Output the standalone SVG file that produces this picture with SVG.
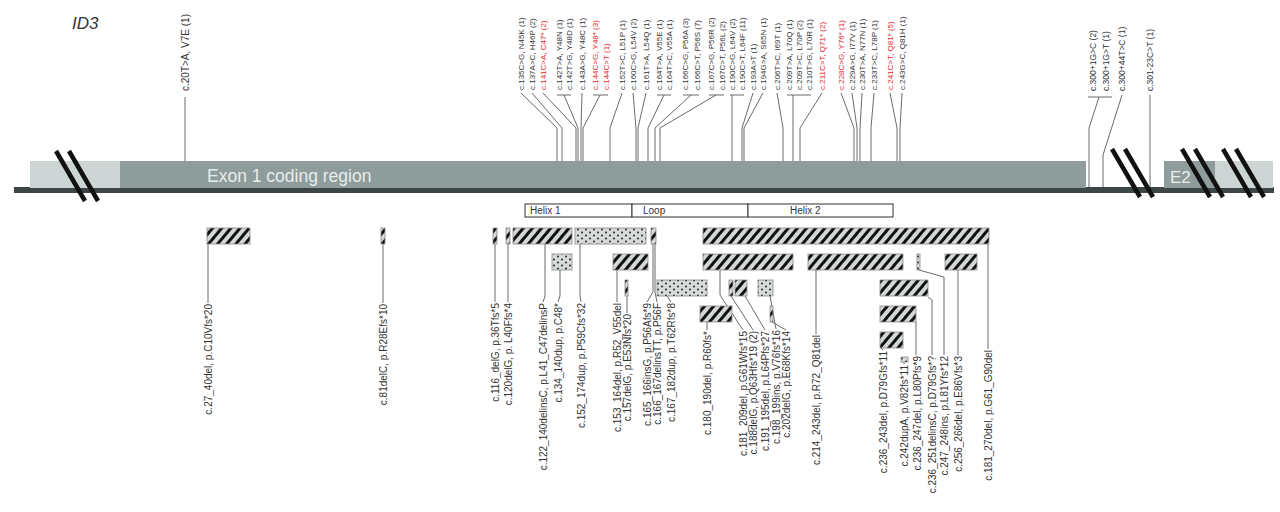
<svg xmlns="http://www.w3.org/2000/svg" width="1280" height="512" viewBox="0 0 1280 512">
<style>
.lbl{font-family:"Liberation Sans",Arial,sans-serif;fill:#333}
.top{font-size:8px}
.rt{font-size:8.5px}
.bot{font-size:10px}
.red{fill:#e3262b}
.ld{fill:none;stroke:#6b6b6b;stroke-width:1}
.hb{fill:url(#hatch);stroke:#8a8a8a;stroke-width:0.8}
.db{fill:url(#dots);stroke:#8a8a8a;stroke-width:0.8}
.slash{stroke:#111;stroke-width:4.5}
.dom{fill:#fff;stroke:#333;stroke-width:1}
.dt{font-family:"Liberation Sans",Arial,sans-serif;font-size:10px;fill:#333}
</style>
<defs>
<pattern id="hatch" width="7" height="7" patternUnits="userSpaceOnUse" patternTransform="rotate(40)">
<rect width="7" height="7" fill="#d3d7d7"/>
<rect width="3" height="7" fill="#111"/>
</pattern>
<pattern id="dots" width="8" height="6" patternUnits="userSpaceOnUse">
<rect width="8" height="6" fill="#d6dada"/>
<circle cx="2" cy="1.5" r="1" fill="#222"/>
<circle cx="6" cy="4.5" r="1" fill="#222"/>
</pattern>
</defs>
<rect width="1280" height="512" fill="#fff"/>
<text x="72" y="29" font-family="Liberation Sans, Arial, sans-serif" font-size="17" font-style="italic" fill="#333">ID3</text>

<g id="gene">
<rect x="14" y="187" width="1260" height="6" fill="#3c4646"/>
<rect x="30" y="161" width="90" height="27" fill="#cdd5d4"/>
<rect x="120" y="161" width="966" height="27" fill="#8e9c9b"/>
<rect x="1164" y="161" width="51" height="27" fill="#8e9c9b"/>
<rect x="1215" y="161" width="58" height="27" fill="#cdd5d4"/>
<text x="207" y="182" font-family="Liberation Sans, Arial, sans-serif" font-size="17.5" fill="#e8eded">Exon 1 coding region</text>
<text x="1170" y="183" font-family="Liberation Sans, Arial, sans-serif" font-size="17" fill="#e8eded">E2</text>
<line class="slash" x1="56" y1="151" x2="85" y2="201"/>
<line class="slash" x1="69" y1="151" x2="98" y2="201"/>
<line class="slash" x1="1112" y1="149" x2="1140" y2="197"/>
<line class="slash" x1="1125" y1="149" x2="1153" y2="197"/>
<line class="slash" x1="1182" y1="149" x2="1210" y2="197"/>
<line class="slash" x1="1195" y1="149" x2="1223" y2="197"/>
<line class="slash" x1="1223" y1="149" x2="1251" y2="197"/>
<line class="slash" x1="1236" y1="149" x2="1264" y2="197"/>
</g>

<g id="domains">
<rect class="dom" x="525" y="204" width="107" height="13"/>
<rect class="dom" x="632" y="204" width="116" height="13"/>
<rect class="dom" x="748" y="204" width="145" height="13"/>
<text class="dt" x="530" y="214">Helix 1</text>
<text class="dt" x="643" y="214">Loop</text>
<text class="dt" x="790" y="214">Helix 2</text>
</g>

<g id="connectors">
<path class="ld" d="M185,97V161"/>
<path class="ld" d="M521,93L557,128V161"/>
<path class="ld" d="M532,93L562,128V161"/>
<path class="ld" d="M543,93L576,128V161"/>
<path class="ld" d="M557,95H571M564,95L578,128V161"/>
<path class="ld" d="M582,93L581,128V161"/>
<path class="ld" d="M593,95H608M600,95L583,128V161"/>
<path class="ld" d="M622,93L610,128V161"/>
<path class="ld" d="M633,93L636,128V161"/>
<path class="ld" d="M646,93L638,128V161"/>
<path class="ld" d="M657,95H671M664,95L648,128V161"/>
<path class="ld" d="M683,95H699M691,95L655,128V161"/>
<path class="ld" d="M709,95H724M716,95L660,128V161"/>
<path class="ld" d="M730,95H744M732,95V161"/>
<path class="ld" d="M753,93L742,128V161"/>
<path class="ld" d="M763,93L744,128V161"/>
<path class="ld" d="M777,93L783,128V161"/>
<path class="ld" d="M787,95H811M793,95V161"/>
<path class="ld" d="M822,93L800,128V161"/>
<path class="ld" d="M841,93L854,128V161"/>
<path class="ld" d="M852,93L857,128V161"/>
<path class="ld" d="M862,93L860,128V161"/>
<path class="ld" d="M874,93L871,128V161"/>
<path class="ld" d="M890,93L897,128V161"/>
<path class="ld" d="M902,93L900,128V161"/>
<path class="ld" d="M1088,97H1112M1099,97L1089,128V187"/>
<path class="ld" d="M1122,95L1103,155V187"/>
<path class="ld" d="M1150,95V187"/>

<path class="ld" d="M208,244V303"/>
<path class="ld" d="M383,244V303"/>
<path class="ld" d="M495,244V302"/>
<path class="ld" d="M508,244V302"/>
<path class="ld" d="M545,244V296L543,302"/>
<path class="ld" d="M560,270V296L558,302"/>
<path class="ld" d="M580,244V296L581,302"/>
<path class="ld" d="M617,270V302"/>
<path class="ld" d="M627,296V313"/>
<path class="ld" d="M653,244V292L647,302"/>
<path class="ld" d="M655,244V292L657,302"/>
<path class="ld" d="M667,296L671,302"/>
<path class="ld" d="M707,322V330"/>
<path class="ld" d="M720,270V295L743,330"/>
<path class="ld" d="M731,296L753,330"/>
<path class="ld" d="M745,296L765,330"/>
<path class="ld" d="M770,296L776,329"/>
<path class="ld" d="M772,322L786,330"/>
<path class="ld" d="M816,270V334"/>
<path class="ld" d="M881,348L883,350"/>
<path class="ld" d="M904,362V364"/>
<path class="ld" d="M916,322V355"/>
<path class="ld" d="M928,297L932,300V355"/>
<path class="ld" d="M919,270L944,277V355"/>
<path class="ld" d="M958,270V355"/>
<path class="ld" d="M988,244V349"/>
</g>

<g id="top-mutations">
<text class="lbl" transform="translate(188.5,91) rotate(-90)" style="font-size:10px">c.20T&gt;A, V7E (1)</text>
<text class="lbl top" transform="translate(524,90) rotate(-90)">c.135C&gt;G, N45K (1)</text>
<text class="lbl top" transform="translate(535,90) rotate(-90)">c.137A&gt;C, H46P (2)</text>
<text class="lbl top red" transform="translate(546,90) rotate(-90)">c.141C&gt;A, C47* (2)</text>
<text class="lbl top" transform="translate(562,90) rotate(-90)">c.142T&gt;A, Y48N (1)</text>
<text class="lbl top" transform="translate(572,90) rotate(-90)">c.142T&gt;G, Y48D (1)</text>
<text class="lbl top" transform="translate(585,90) rotate(-90)">c.143A&gt;G, Y48C (1)</text>
<text class="lbl top red" transform="translate(598,90) rotate(-90)">c.144C&gt;G, Y48* (3)</text>
<text class="lbl top red" transform="translate(609,90) rotate(-90)">c.144C&gt;T (1)</text>
<text class="lbl top" transform="translate(625,90) rotate(-90)">c.152T&gt;C, L51P (1)</text>
<text class="lbl top" transform="translate(636,90) rotate(-90)">c.160C&gt;G, L54V (2)</text>
<text class="lbl top" transform="translate(649,90) rotate(-90)">c.161T&gt;A, L54Q (1)</text>
<text class="lbl top" transform="translate(662,90) rotate(-90)">c.164T&gt;A, V55E (1)</text>
<text class="lbl top" transform="translate(672,90) rotate(-90)">c.164T&gt;C, V55A (1)</text>
<text class="lbl top" transform="translate(688,90) rotate(-90)">c.166C&gt;G, P56A (3)</text>
<text class="lbl top" transform="translate(700,90) rotate(-90)">c.166C&gt;T, P56S (7)</text>
<text class="lbl top" transform="translate(714,90) rotate(-90)">c.167C&gt;G, P56R (2)</text>
<text class="lbl top" transform="translate(725,90) rotate(-90)">c.167C&gt;T, P56L (2)</text>
<text class="lbl top" transform="translate(735,90) rotate(-90)">c.190C&gt;G, L64V (2)</text>
<text class="lbl top" transform="translate(745,90) rotate(-90)">c.190C&gt;T, L64F (11)</text>
<text class="lbl top" transform="translate(756,90) rotate(-90)">c.193A&gt;T (1)</text>
<text class="lbl top" transform="translate(766,90) rotate(-90)">c.194G&gt;A, S65N (1)</text>
<text class="lbl top" transform="translate(780,90) rotate(-90)">c.206T&gt;C, I69T (1)</text>
<text class="lbl top" transform="translate(792,90) rotate(-90)">c.209T&gt;A, L70Q (1)</text>
<text class="lbl top" transform="translate(802,90) rotate(-90)">c.209T&gt;C, L70P (2)</text>
<text class="lbl top" transform="translate(812,90) rotate(-90)">c.210T&gt;G, L70R (1)</text>
<text class="lbl top red" transform="translate(825,90) rotate(-90)">c.211C&gt;T, Q71* (2)</text>
<text class="lbl top red" transform="translate(844,90) rotate(-90)">c.228C&gt;G, Y76* (1)</text>
<text class="lbl top" transform="translate(855,90) rotate(-90)">c.229A&gt;G, I77V (1)</text>
<text class="lbl top" transform="translate(865,90) rotate(-90)">c.230T&gt;A, N77N (1)</text>
<text class="lbl top" transform="translate(877,90) rotate(-90)">c.233T&gt;C, L78P (1)</text>
<text class="lbl top red" transform="translate(893,90) rotate(-90)">c.241C&gt;T, Q81* (5)</text>
<text class="lbl top" transform="translate(905,90) rotate(-90)">c.243G&gt;C, Q81H (1)</text>
<text class="lbl rt" transform="translate(1096,91) rotate(-90)">c.300+1G&gt;C (2)</text>
<text class="lbl rt" transform="translate(1109,91) rotate(-90)">c.300+1G&gt;T (1)</text>
<text class="lbl rt" transform="translate(1125,91) rotate(-90)">c.300+44T&gt;C (1)</text>
<text class="lbl rt" transform="translate(1153,91) rotate(-90)">c.301-23C&gt;T (1)</text>
</g>

<g id="bars">
<rect class="hb" x="207" y="228" width="43" height="16"/>
<rect class="hb" x="381" y="228" width="4" height="16"/>
<rect class="hb" x="493" y="228" width="4" height="16"/>
<rect class="hb" x="506" y="228" width="4" height="16"/>
<rect class="hb" x="513" y="228" width="59" height="16"/>
<rect class="db" x="575" y="228" width="71" height="16"/>
<rect class="hb" x="651" y="228" width="5" height="16"/>
<rect class="hb" x="703" y="228" width="286" height="16"/>
<rect class="db" x="552" y="254" width="20" height="16"/>
<rect class="hb" x="613" y="254" width="35" height="16"/>
<rect class="hb" x="703" y="254" width="90" height="16"/>
<rect class="hb" x="808" y="254" width="95" height="16"/>
<rect class="db" x="917" y="254" width="3" height="16"/>
<rect class="hb" x="945" y="254" width="32" height="16"/>
<rect class="hb" x="625" y="280" width="3" height="16"/>
<rect class="db" x="657" y="280" width="50" height="16"/>
<rect class="hb" x="729" y="280" width="4" height="16"/>
<rect class="hb" x="735" y="280" width="12" height="16"/>
<rect class="db" x="758" y="280" width="15" height="16"/>
<rect class="hb" x="880" y="280" width="48" height="16"/>
<rect class="hb" x="700" y="306" width="32" height="16"/>
<rect class="hb" x="770" y="306" width="3" height="16"/>
<rect class="hb" x="880" y="306" width="36" height="16"/>
<rect class="hb" x="880" y="332" width="23" height="16"/>
<rect class="db" x="901" y="357" width="7" height="5"/>
</g>

<g id="bottom-mutations">
<text class="lbl bot" text-anchor="end" transform="translate(211.5,304) rotate(-90)">c.27_40del, p.C10Vfs*20</text>
<text class="lbl bot" text-anchor="end" transform="translate(386.5,304) rotate(-90)">c.81delC, p.R28Efs*10</text>
<text class="lbl bot" text-anchor="end" transform="translate(498.5,303) rotate(-90)">c.116_delG, p.36Tfs*5</text>
<text class="lbl bot" text-anchor="end" transform="translate(511.5,303) rotate(-90)">c.120delG, p. L40Ffs*4</text>
<text class="lbl bot" text-anchor="end" transform="translate(546.5,303) rotate(-90)">c.122_140delinsC, p.L41_C47delinsP</text>
<text class="lbl bot" text-anchor="end" transform="translate(561.5,303) rotate(-90)">c.134_140dup, p.C48*</text>
<text class="lbl bot" text-anchor="end" transform="translate(584.5,303) rotate(-90)">c.152_174dup, p.P59Cfs*32</text>
<text class="lbl bot" text-anchor="end" transform="translate(620.5,303) rotate(-90)">c.153_164del, p.R52_V55del</text>
<text class="lbl bot" text-anchor="end" transform="translate(630.5,314) rotate(-90)">c.157delG, p.E53Nfs*20</text>
<text class="lbl bot" text-anchor="end" transform="translate(650.5,303) rotate(-90)">c.165_166insG, p.P56Afs*9</text>
<text class="lbl bot" text-anchor="end" transform="translate(660.5,303) rotate(-90)">c.166_167delinsTT, p.P56F</text>
<text class="lbl bot" text-anchor="end" transform="translate(674.5,303) rotate(-90)">c.167_182dup, p.T62Rfs*8</text>
<text class="lbl bot" text-anchor="end" transform="translate(710.5,331) rotate(-90)">c.180_190del, p.R60fs*</text>
<text class="lbl bot" text-anchor="end" transform="translate(746.5,331) rotate(-90)">c.181_209del, p.G61Wfs*15</text>
<text class="lbl bot" text-anchor="end" transform="translate(756.5,331) rotate(-90)">c.188delG, p.Q63Hfs*19 (2)</text>
<text class="lbl bot" text-anchor="end" transform="translate(768.5,331) rotate(-90)">c.191_195del, p.L64Pfs*27</text>
<text class="lbl bot" text-anchor="end" transform="translate(779.5,330) rotate(-90)">c.198_199ins, p.V76fs*16</text>
<text class="lbl bot" text-anchor="end" transform="translate(789.5,331) rotate(-90)">c.202delG, p.E68Kfs*14</text>
<text class="lbl bot" text-anchor="end" transform="translate(819.5,335) rotate(-90)">c.214_243del, p.R72_Q81del</text>
<text class="lbl bot" text-anchor="end" transform="translate(886.5,351) rotate(-90)">c.236_243del, p.D79Gfs*11</text>
<text class="lbl bot" text-anchor="end" transform="translate(907.5,365) rotate(-90)">c.242dupA, p.V82fs*11</text>
<text class="lbl bot" text-anchor="end" transform="translate(920.5,356) rotate(-90)">c.236_247del, p.L80Pfs*9</text>
<text class="lbl bot" text-anchor="end" transform="translate(935.5,356) rotate(-90)">c.236_251delinsC, p.D79Gfs*?</text>
<text class="lbl bot" text-anchor="end" transform="translate(947.5,356) rotate(-90)">c.247_248ins, p.L81Yfs*12</text>
<text class="lbl bot" text-anchor="end" transform="translate(961.5,356) rotate(-90)">c.256_266del, p.E86Vfs*3</text>
<text class="lbl bot" text-anchor="end" transform="translate(991.5,350) rotate(-90)">c.181_270del, p.G61_G90del</text>
</g>
</svg>
